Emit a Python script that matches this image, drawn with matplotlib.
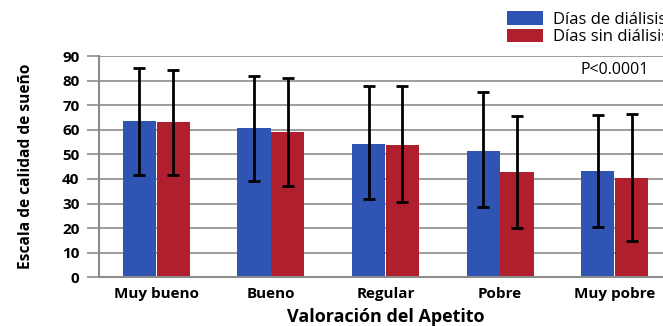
import numpy as np
import matplotlib
matplotlib.use("Agg")
import matplotlib.pyplot as plt
from matplotlib.patches import Patch

plt.rcParams["font.family"] = ["Open Sans", "DejaVu Sans"]

# Valoración del apetito vs. escala de calidad de sueño
categorias = ["Muy bueno", "Bueno", "Regular", "Pobre", "Muy pobre"]

dialisis_media = [63.4, 60.6, 54.3, 51.5, 43.1]
dialisis_inf = [41.7, 39.0, 31.7, 28.5, 20.4]
dialisis_sup = [85.0, 82.0, 78.0, 75.5, 65.9]

sin_dialisis_media = [63.0, 59.0, 53.8, 42.7, 40.4]
sin_dialisis_inf = [41.7, 37.0, 30.7, 20.2, 14.8]
sin_dialisis_sup = [84.5, 81.0, 78.0, 65.6, 66.4]

AZUL = "#2f54b3"
ROJO = "#b01f2e"
GRIS = "#8c8c8c"

fig = plt.figure(figsize=(6.63, 3.26), dpi=100)
# el eje se sale un poco por la derecha de la figura
ax = fig.add_axes([99 / 663, 1 - 277.3 / 326, 573 / 663, 221.3 / 326])

x = np.arange(len(categorias))
ancho = 0.29
desp = 0.148

m1 = np.array(dialisis_media)
m2 = np.array(sin_dialisis_media)
err1 = [m1 - np.array(dialisis_inf), np.array(dialisis_sup) - m1]
err2 = [m2 - np.array(sin_dialisis_inf), np.array(sin_dialisis_sup) - m2]

ax.bar(x - desp, m1, ancho, color=AZUL, zorder=2)
ax.bar(x + desp, m2, ancho, color=ROJO, zorder=2)
err_kw = dict(fmt="none", ecolor="black", elinewidth=2, capsize=4, capthick=2, zorder=3)
ax.errorbar(x - desp, m1, yerr=err1, **err_kw)
ax.errorbar(x + desp, m2, yerr=err2, **err_kw)

ax.set_xlim(-0.5, len(categorias) - 0.5)
ax.set_ylim(0, 90)
ax.set_yticks(np.arange(0, 91, 10))
ax.set_xticks(x)
ax.set_xticklabels(categorias, fontsize=11, fontweight="bold")
for t in ax.get_yticklabels():
    t.set_fontsize(11)
    t.set_fontweight("bold")

ax.yaxis.grid(True, color=GRIS, linewidth=1.2, zorder=0)
ax.set_axisbelow(True)
ax.tick_params(axis="y", length=9, width=1.2, color=GRIS, pad=5)
ax.tick_params(axis="x", length=0, pad=7)
for lado in ["top", "right"]:
    ax.spines[lado].set_visible(False)
for lado in ["left", "bottom"]:
    ax.spines[lado].set_color(GRIS)
    ax.spines[lado].set_linewidth(1.5)

ax.set_xlabel("Valoración del Apetito", fontsize=13, fontweight="bold", labelpad=5)
ax.set_ylabel("Escala de calidad de sueño", fontsize=11.2, fontweight="bold", labelpad=20)

ax.text(4, 84.3, "P<0.0001", ha="center", va="center", fontsize=11.5)

handles = [Patch(facecolor=AZUL), Patch(facecolor=ROJO)]
fig.legend(handles, ["Días de diálisis", "Días sin diálisis"],
           loc="upper left", bbox_to_anchor=(507 / 663, 1 - 11 / 326),
           frameon=False, fontsize=12, handlelength=2.15, handleheight=0.9,
           handletextpad=0.6, labelspacing=0.05, borderpad=0, borderaxespad=0)

fig.savefig("out.png", dpi=100)
